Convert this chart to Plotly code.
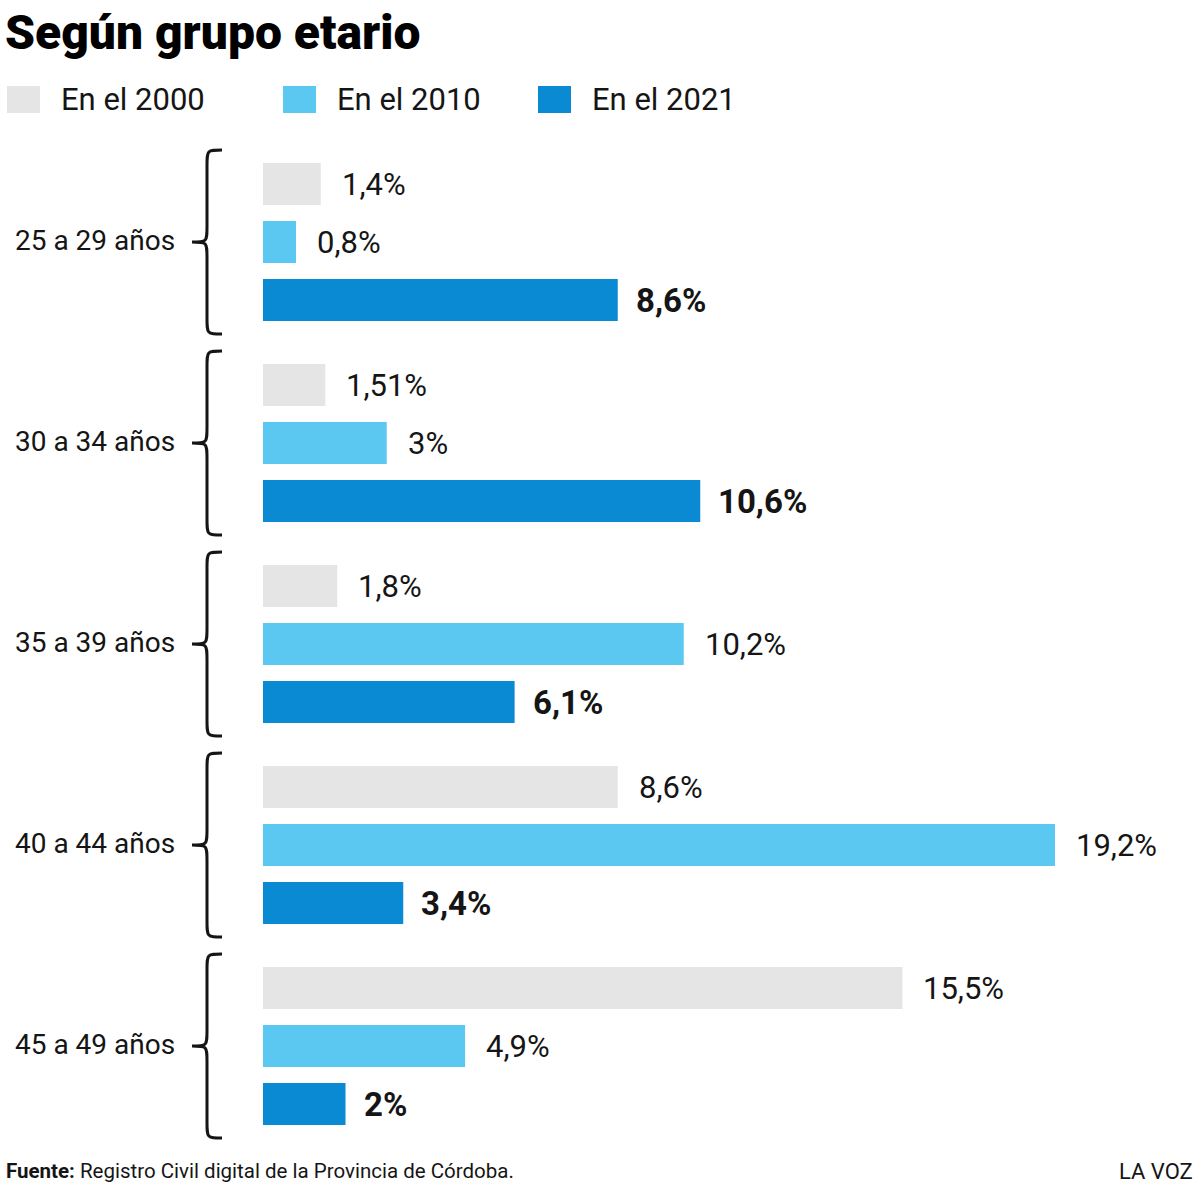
import plotly.graph_objects as go

# ---------------- data ----------------
groups = ["25 a 29 años", "30 a 34 años", "35 a 39 años", "40 a 44 años", "45 a 49 años"]
series_names = ["En el 2000", "En el 2010", "En el 2021"]
values_2000 = [1.4, 1.51, 1.8, 8.6, 15.5]
values_2010 = [0.8, 3.0, 10.2, 19.2, 4.9]
values_2021 = [8.6, 10.6, 6.1, 3.4, 2.0]
labels_2000 = ["1,4%", "1,51%", "1,8%", "8,6%", "15,5%"]
labels_2010 = ["0,8%", "3%", "10,2%", "19,2%", "4,9%"]
labels_2021 = ["8,6%", "10,6%", "6,1%", "3,4%", "2%"]
title_text = "Según grupo etario"
source_bold = "Fuente:"
source_text = " Registro Civil digital de la Provincia de Córdoba."
brand_text = "LA VOZ"

# ---------------- style / layout ----------------
W, H = 1200, 1187
colors = ["#e5e5e5", "#5bc8f1", "#0a8ad3"]
FONT = "Roboto, sans-serif"
TXT = "#151515"
PX_PER_UNIT_Y = 58.0          # spacing between bars within a group
GROUP_STEP = 201.0 / PX_PER_UNIT_Y
FIRST_CENTER_PX = 184.0
BAR_W = 42.0 / PX_PER_UNIT_Y
X0_PX = 263.0
PX_PER_PCT = 41.25

def ypx(px):
    return (px - FIRST_CENTER_PX) / PX_PER_UNIT_Y

all_values = [values_2000, values_2010, values_2021]
all_labels = [labels_2000, labels_2010, labels_2021]

fig = go.Figure()
annotations = []
shapes = []

for s, (name, vals, labs) in enumerate(zip(series_names, all_values, all_labels)):
    ys = [g * GROUP_STEP + s for g in range(len(groups))]
    fig.add_trace(go.Bar(
        x=vals, y=ys, orientation="h", name=name,
        marker=dict(color=colors[s], line=dict(width=0)),
        width=BAR_W, showlegend=False, hoverinfo="skip",
    ))
    for v, y, lab in zip(vals, ys, labs):
        bold = s == 2
        annotations.append(dict(
            x=v, y=y, xref="x", yref="y", text=(f"<b>{lab}</b>" if bold else lab),
            showarrow=False, xanchor="left", yanchor="middle",
            xshift=(16 if bold else 19), yshift=0,
            font=dict(family=FONT, size=(33 if bold else 31), color=TXT),
        ))

# group labels and braces
for g, name in enumerate(groups):
    yc = g * GROUP_STEP + 1
    annotations.append(dict(
        x=177 / W, y=yc, xref="paper", yref="y", text=name, showarrow=False,
        xanchor="right", yanchor="middle", yshift=2,
        font=dict(family=FONT, size=28, color=TXT),
    ))
    top = yc - 92 / PX_PER_UNIT_Y
    bot = yc + 92 / PX_PER_UNIT_Y
    c = 16 / PX_PER_UNIT_Y
    xe, xv, xt = 222 / W, 207 / W, 192 / W
    path = (f"M {xe},{top} C {xv},{top} {xv},{top} {xv},{top + c} "
            f"L {xv},{yc - c} C {xv},{yc} {xv},{yc} {xt},{yc} "
            f"C {xv},{yc} {xv},{yc} {xv},{yc + c} "
            f"L {xv},{bot - c} C {xv},{bot} {xv},{bot} {xe},{bot}")
    shapes.append(dict(type="path", path=path, xref="paper", yref="y",
                       line=dict(color=TXT, width=3)))

# legend (manual)
leg_sq_x = [7, 283, 538]
for s, name in enumerate(series_names):
    x = leg_sq_x[s]
    shapes.append(dict(type="rect", xref="paper", yref="paper",
                       x0=x / W, x1=(x + 33) / W, y0=1 - 113 / H, y1=1 - 86 / H,
                       fillcolor=colors[s], line=dict(width=0)))
    annotations.append(dict(
        x=(x + 52) / W, y=1 - 99 / H, xref="paper", yref="paper", text=name,
        showarrow=False, xanchor="left", yanchor="middle",
        font=dict(family=FONT, size=31, color=TXT),
    ))

# title
annotations.append(dict(
    x=3 / W, y=1 - 32 / H, xref="paper", yref="paper", text=title_text,
    showarrow=False, xanchor="left", yanchor="middle",
    font=dict(family=FONT, size=48, color="#000", weight=900),
))
# footer
annotations.append(dict(
    x=4 / W, y=1 - 1171 / H, xref="paper", yref="paper",
    text=f"<b>{source_bold}</b>{source_text}",
    showarrow=False, xanchor="left", yanchor="middle",
    font=dict(family=FONT, size=20.5, color=TXT),
))
annotations.append(dict(
    x=1195 / W, y=1 - 1171 / H, xref="paper", yref="paper", text=brand_text,
    showarrow=False, xanchor="right", yanchor="middle",
    font=dict(family=FONT, size=22, color=TXT),
))

fig.update_layout(
    width=W, height=H, margin=dict(l=0, r=0, t=0, b=0),
    paper_bgcolor="white", plot_bgcolor="white",
    barmode="overlay",
    xaxis=dict(domain=[X0_PX / W, 1], range=[0, (W - X0_PX) / PX_PER_PCT],
               visible=False, fixedrange=True),
    yaxis=dict(domain=[0, 1], range=[ypx(H), ypx(0)], visible=False, fixedrange=True),
    annotations=annotations, shapes=shapes,
)

fig.write_html("out.html")
